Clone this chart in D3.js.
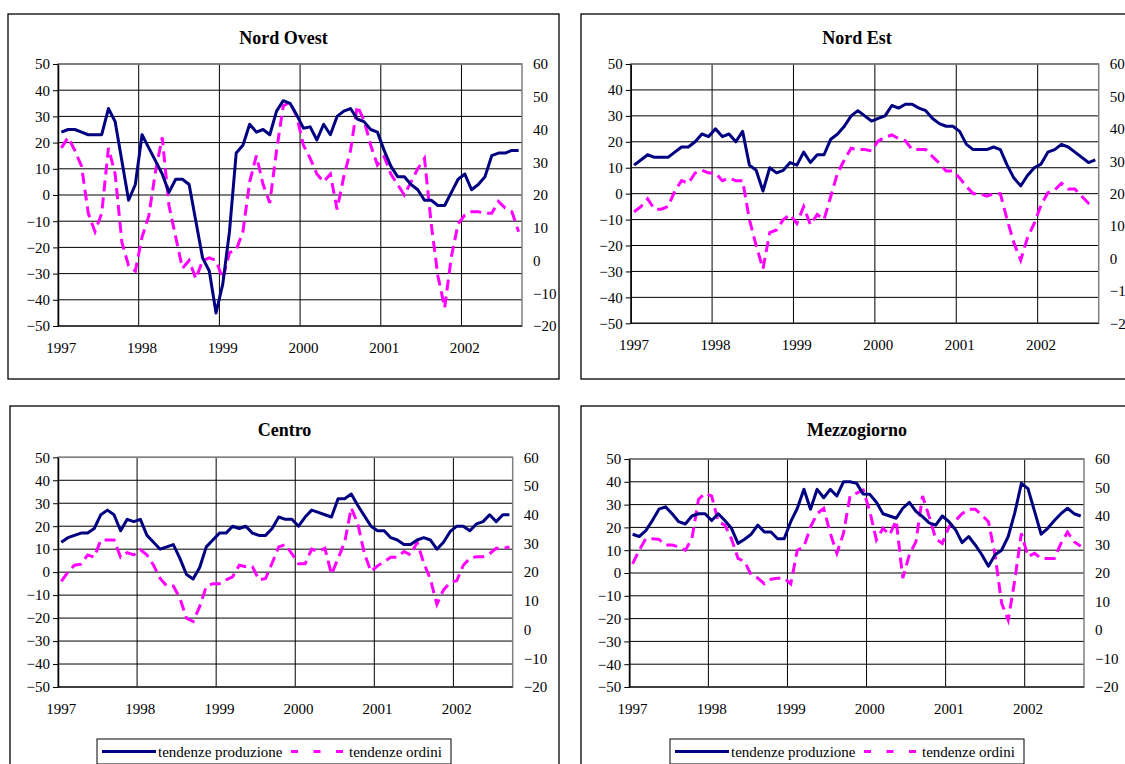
<!DOCTYPE html>
<html>
<head>
<meta charset="utf-8">
<script src="https://cdn.jsdelivr.net/npm/d3@7"></script>
<style>
  body { margin: 0; background: #fff; }
  svg { display: block; }
  text { font-family: "Liberation Serif", "Times New Roman", serif; fill: #000; }
</style>
</head>
<body>
<svg id="chart" width="1125" height="764"></svg>
<script>

// category axis: monthly data, Jan 1997 - Sep 2002
var years = ["1997", "1998", "1999", "2000", "2001", "2002"];
var monthNames = ["01","02","03","04","05","06","07","08","09","10","11","12"];
var months = years.flatMap(function (y) {
    return monthNames.map(function (m) { return y + "-" + m; });
}).slice(0, 69);

var leftTicks = [-50, -40, -30, -20, -10, 0, 10, 20, 30, 40, 50];
var rightTicks = [-20, -10, 0, 10, 20, 30, 40, 50, 60];

var panelNames = ["Nord Ovest", "Nord Est", "Centro", "Mezzogiorno"];
var seriesNames = ["tendenze produzione", "tendenze ordini"];

// tendenze produzione (left axis)
var produzioneNordOvest = [24,25,25,24,23,23,23,33,28,13, -2,4,23,18,13,8,1,6,6,4,
    -10,-24,-29,-45,-34,-14,16,19,27,24, 25,23,32,36,35,30.5,25.5,26,21,27,
    23,30,32,33,29,28,25,24,17,11, 7,7,4,2,-2,-2,-4,-4,1,6, 8,2,4,7,15,16,16,17,17];
var produzioneNordEst = [11,13,15,14,14,14,16,18,18,20, 23,22,25,22,23,20,24,11,9,1,
    10,8,9,12,11,16,12,15,15,21, 23,26,30,32,30,28,29,30,34,33,
    34.5,34.5,33,32,29,27,26,26,24,19, 17,17,17,18,17,11,6,3,7,10, 11.4,16,17,19,18,16,14,12,13];
var produzioneCentro = [13,15,16,17,17,19,25,27,25,18, 23,22,23,16,13,10,11,12,6,-1,
    -3,2,11,14,17,17,20,19,20,17, 16,16,19,24,23,23,20,24,27,26,
    25,24,32,32,34,29,24.5,20,18,18, 15,14,12,12,14,15,14,10,13,17.6, 20,20,18,21,22,25,22,25,25];
var produzioneMezzogiorno = [17,16,18.6,23,28,29,26,22.5,21.5,25, 26,26,23,26,23,19.6,13,14.8,17,21,
    18,18,15,15,22.5,28.4,36.7,28,36.7,33, 36.7,33.8,40,40,39.3,34.6,34.5,31,26,25,
    24,28.4,31,27,24.7,22,21,25,22.5,19, 13.3,16,12.3,8,3,8,10,16,26.5,39.3, 37,27,17,19.6,23,26,28.4,26,25];

// tendenze ordini (right axis)
var ordiniNordOvest = [34.4,37.6,33.6,28.8,14.4,8.8,14.4,34.4,26.4,5.6, -1.6,-3.2,7.2,13.6,27.2,37.6,16.8,7.2,-2.4,0,
    -5.6,0,0.8,0,-5.6,2.4,3.2,8.8,24,32, 23.2,17.6,33.6,47.2,48.4,44,35.2,31.2,26.4,24,
    26.4,15.6,25.6,33.6,47.2,42.9,35.2,29.2,31.7,26.4, 23.2,20,24,28,31.2,11.2,-4.8,-14.4,1.2,11.2,
    13.9,14.9,14.9,14.4,14.4,18,16,14.9,8.8];
var ordiniNordEst = [14.4,16,18.4,15.2,15.2,16,20.8,24,23.2,26.4, 27.2,26.4,26.4,24,24.8,24,24,12,4,-3.2,
    8,8.8,12,13.6,10.8,16,10.4,13.6,12,19.2, 26.4,30.4,34,33.6,33.6,33.2,36.3,37.4,38.1,37,
    36.3,33.6,33.6,33.6,31.4,29.4,27,27,24.8,22.2, 20,20,19.2,20,20,12,4.8,-0.5,6.4,10.8,
    16.5,20.3,21.1,23.2,21.4,21.4,19.2,17,17];
var ordiniCentro = [16.8,20,22.4,22.8,26,25.2,31.2,31.2,31.2,25.2, 26.8,26,27.8,26,22.4,17.8,15.2,15.2,10.9,4,
    2.8,8,15,16,16,17.3,18.4,22.4,21.9,21.9, 17.3,17.8,23.2,28.8,29.6,26.4,22.9,22.9,28,27.2,
    28.3,19.2,24.8,30.4,42.4,36.8,26.4,20.2,22.2,23.7, 25.2,25.2,27.2,26,30.4,23.2,17.6,8.8,13.8,16.3,
    17,22.4,24.8,25.4,25.4,26.4,28.3,28.3,28.8];
var ordiniMezzogiorno = [23.2,28,32,32,31.8,29.8,29.8,29.2,28,32, 45.8,48,47,38,36.8,32,25.1,24,19.3,18.2,
    16.2,17.8,18.2,18.2,16.2,28,29.2,36.2,40.8,42.7, 33.9,26.9,33.9,47,48,49.1,41.6,31.6,35.7,33.4,
    38.4,18.2,26.4,31,47,39.8,32,30.4,36.2,38.4, 40.8,42.4,42.4,40.3,38,26.4,9.4,3.5,17.6,33.9,
    25.8,26.9,25.1,25.1,25.1,30.4,34.4,31,29.4];

var produzione = [produzioneNordOvest, produzioneNordEst, produzioneCentro, produzioneMezzogiorno];
var ordini = [ordiniNordOvest, ordiniNordEst, ordiniCentro, ordiniMezzogiorno];

var BLUE = "#000080";
var MAGENTA = "#ff00ff";
var FONT = "'Liberation Serif', 'Times New Roman', serif";

// panel boxes: frame [x0,y0,x1,y1], plot area [x0,y0,x1,y1]
var layout = [
    { frame: [8, 14, 559, 379],    plot: [58, 64, 522, 326],        titleY: 44 },
    { frame: [581, 14, 1133, 379], plot: [630.7, 64, 1098.7, 323.3], titleY: 44 },
    { frame: [10, 406, 559, 790],  plot: [58, 457.3, 512.7, 687],   titleY: 436, legend: [97, 739, 451, 764] },
    { frame: [581, 406, 1133, 790], plot: [629.3, 459, 1084, 687],  titleY: 436, legend: [670, 739, 1024, 764] }
];

var svg = d3.select("#chart");

function drawPanel(k) {

    var lay = layout[k];
    var p = lay.plot;
    var g = svg.append("g");

    var x = d3.scaleBand().domain(months).range([p[0], p[2]]);
    var yL = d3.scaleLinear().domain([-50, 50]).range([p[3], p[1]]);
    var yR = d3.scaleLinear().domain([-20, 60]).range([p[3], p[1]]);

    g.append("rect")
        .attr("x", lay.frame[0]).attr("y", lay.frame[1])
        .attr("width", lay.frame[2] - lay.frame[0])
        .attr("height", lay.frame[3] - lay.frame[1])
        .attr("fill", "none").attr("stroke", "#000").attr("stroke-width", 1.3);

    g.append("text")
        .attr("x", (lay.frame[0] + lay.frame[2]) / 2)
        .attr("y", lay.titleY)
        .attr("text-anchor", "middle")
        .style("font-weight", "bold")
        .style("font-size", "18px")
        .text(panelNames[k]);

    // gridlines
    g.selectAll(".hgrid").data(leftTicks).enter().append("line")
        .attr("x1", p[0]).attr("x2", p[2])
        .attr("y1", function (d) { return yL(d); })
        .attr("y2", function (d) { return yL(d); })
        .attr("stroke", "#000").attr("stroke-width", 1);

    g.selectAll(".vgrid").data(years.slice(1)).enter().append("line")
        .attr("x1", function (d) { return x(d + "-01"); })
        .attr("x2", function (d) { return x(d + "-01"); })
        .attr("y1", p[1]).attr("y2", p[3])
        .attr("stroke", "#000").attr("stroke-width", 1);

    g.append("rect")
        .attr("x", p[0]).attr("y", p[1])
        .attr("width", p[2] - p[0]).attr("height", p[3] - p[1])
        .attr("fill", "none").attr("stroke", "#808080").attr("stroke-width", 1.5);

    // bottom (category) axis line
    g.append("line")
        .attr("x1", p[0]).attr("x2", p[2]).attr("y1", p[3]).attr("y2", p[3])
        .attr("stroke", "#000").attr("stroke-width", 1);

    // left axis
    var ax = g.append("g")
        .attr("transform", "translate(" + p[0] + ",0)")
        .call(d3.axisLeft(yL).tickValues(leftTicks).tickSize(5).tickSizeOuter(0).tickPadding(3));
    ax.attr("font-family", null).attr("font-size", null);
    ax.selectAll("text").style("font-family", FONT).style("font-size", "15px");
    ax.select(".domain").attr("stroke", "#000").attr("stroke-width", 1.5);

    // right axis (labels only)
    var axR = g.append("g")
        .attr("transform", "translate(" + p[2] + ",0)")
        .call(d3.axisRight(yR).tickValues(rightTicks).tickSize(0).tickPadding(11));
    axR.attr("font-family", null).attr("font-size", null);
    axR.selectAll("text").style("font-family", FONT).style("font-size", "15px");
    axR.select(".domain").remove();

    // year labels at january categories
    g.selectAll(".year").data(years).enter().append("text")
        .attr("x", function (d) { return x(d + "-01") + x.bandwidth() / 2; })
        .attr("y", p[3] + 27)
        .attr("text-anchor", "middle")
        .style("font-family", FONT)
        .style("font-size", "15px")
        .text(function (d) { return d; });

    var cx = function (d, i) { return x(months[i]) + x.bandwidth() / 2; };

    g.append("path")
        .datum(ordini[k])
        .attr("fill", "none")
        .attr("stroke", MAGENTA)
        .attr("stroke-width", 3)
        .attr("stroke-dasharray", "11,6")
        .attr("d", d3.line().x(cx).y(function (d) { return yR(d); }));

    g.append("path")
        .datum(produzione[k])
        .attr("fill", "none")
        .attr("stroke", BLUE)
        .attr("stroke-width", 3)
        .attr("stroke-linejoin", "round")
        .attr("d", d3.line().x(cx).y(function (d) { return yL(d); }));

    if (lay.legend) drawLegend(g, lay.legend);
}

function drawLegend(g, b) {

    var my = (b[1] + b[3]) / 2;

    g.append("rect")
        .attr("x", b[0]).attr("y", b[1])
        .attr("width", b[2] - b[0]).attr("height", b[3] - b[1])
        .attr("fill", "#fff").attr("stroke", "#000").attr("stroke-width", 1);

    g.append("line")
        .attr("x1", b[0] + 5).attr("x2", b[0] + 59)
        .attr("y1", my).attr("y2", my)
        .attr("stroke", BLUE).attr("stroke-width", 3);

    g.append("text")
        .attr("x", b[0] + 61).attr("y", my + 5)
        .style("font-family", FONT)
        .style("font-size", "15px")
        .text(seriesNames[0]);

    g.append("line")
        .attr("x1", b[0] + 194).attr("x2", b[0] + 247)
        .attr("y1", my).attr("y2", my)
        .attr("stroke", MAGENTA).attr("stroke-width", 3)
        .attr("stroke-dasharray", "7,15.5");

    g.append("text")
        .attr("x", b[0] + 252).attr("y", my + 5)
        .style("font-family", FONT)
        .style("font-size", "15px")
        .text(seriesNames[1]);
}

for (var k = 0; k < 4; k++) drawPanel(k);

</script>
</body>
</html>
